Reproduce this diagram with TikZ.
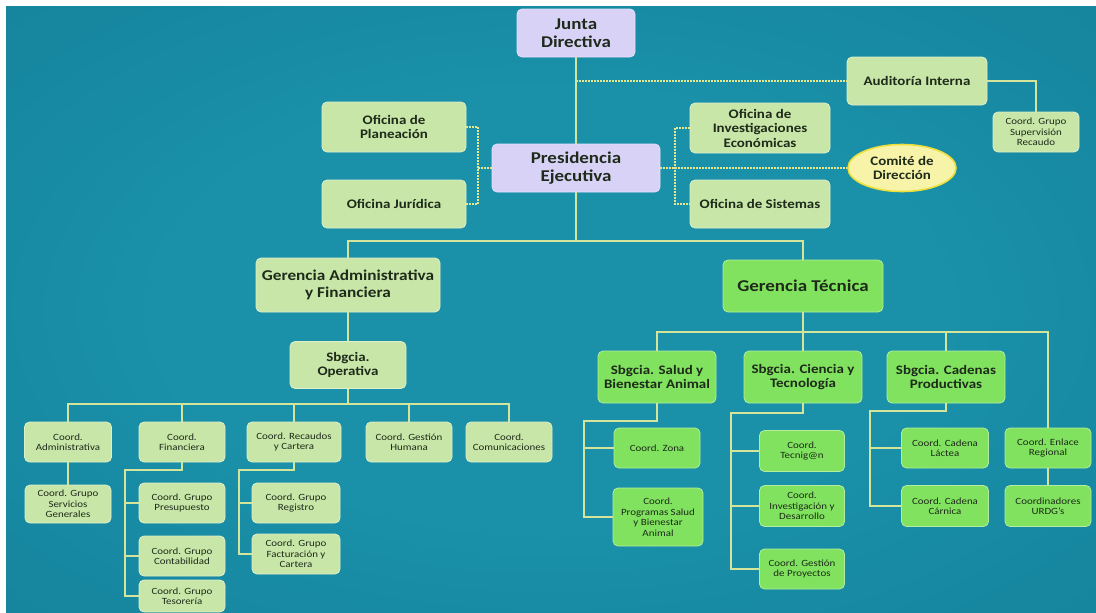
\documentclass[tikz,border=0pt]{standalone}
\usepackage{fontspec}
\setmainfont{Carlito}[FakeStretch=1.15]
\usetikzlibrary{shapes.geometric}

\definecolor{bgMid}{HTML}{1A90A9}
\definecolor{bgEdge}{HTML}{147E97}
\definecolor{bgCorner}{HTML}{0E667A}
\definecolor{lav}{HTML}{D9D2F7}
\definecolor{pale}{HTML}{C8E6A8}
\definecolor{bright}{HTML}{80E25E}
\definecolor{yel}{HTML}{F7F3A8}
\definecolor{yelB}{HTML}{EDE03A}
\definecolor{wire}{HTML}{D4E49A}
\definecolor{dots}{HTML}{E4E690}
\definecolor{ink}{HTML}{1E2A1A}

\pgfdeclareradialshading{bgshade}{\pgfpoint{0bp}{0bp}}{%
  color(0bp)=(bgMid); color(18bp)=(bgMid); color(45bp)=(bgEdge); color(71bp)=(bgCorner)}

\tikzset{
  sz/.style 2 args={minimum width=#1pt, minimum height=#2pt},
  box/.style={rounded corners=5pt, align=center, inner sep=1pt, text=ink, line width=0.8pt},
  lavbox/.style={box, fill=lav, draw=lav!70!white, font=\bfseries\fontsize{16.5}{18}\selectfont},
  palebox/.style={box, fill=pale, draw=pale!60!white, font=\bfseries\fontsize{13}{14.5}\selectfont},
  brightbox/.style={box, fill=bright, draw=bright!60!white, font=\bfseries\fontsize{13}{14.5}\selectfont},
  gfont/.style={font=\bfseries\fontsize{15}{17}\selectfont},
  gtfont/.style={font=\bfseries\fontsize{16.5}{18}\selectfont},
  small/.style={font=\fontsize{9.5}{10.5}\selectfont},
  palesm/.style={palebox, small},
  brightsm/.style={brightbox, small},
  ln/.style={draw=wire, line width=2pt},
  dot/.style={draw=dots, line width=2pt, dash pattern=on 1.6pt off 1.4pt},
}

\begin{document}
\begin{tikzpicture}[x=1pt,y=-1pt]
\useasboundingbox (0,0) rectangle (1096,613);
\fill[white] (0,0) rectangle (1096,613);
\shade[shading=bgshade] (6,6) rectangle (1096,613);

% bus and bracket positions
\coordinate (busY) at (0,241);
\coordinate (bus2) at (0,404);
\coordinate (bus3) at (0,332);
\coordinate (lbx) at (478,0);
\coordinate (rbx) at (675,0);
\coordinate (finx) at (125,470);
\coordinate (recx) at (239,470);
\coordinate (salx) at (584,421);
\coordinate (ciex) at (731,413);
\coordinate (cadx) at (870,411);

% top level
\node[lavbox, sz={118}{48}] (junta) at (576,33) {Junta\\Directiva};
\node[lavbox, sz={168}{48}] (pres) at (576,168) {Presidencia\\Ejecutiva};
\node[palebox, sz={144}{50}] (plan) at (394,127) {Oficina de\\Planeación};
\node[palebox, sz={144}{48}] (jur) at (394,204) {Oficina Jurídica};
\node[palebox, sz={140}{50}] (inv) at (760,128) {Oficina de\\Investigaciones\\Económicas};
\node[palebox, sz={140}{48}] (sist) at (760,204) {Oficina de Sistemas};
\node[palebox, sz={140}{48}] (aud) at (917,81) {Auditoría Interna};
\node[palesm, sz={86}{40}] (sup) at (1036,132) {Coord. Grupo\\Supervisión\\Recaudo};
\node[ellipse, fill=yel, draw=yelB, line width=1.6pt, sz={108}{47}, inner sep=0pt,
      align=center, text=ink, font=\bfseries\fontsize{13}{14.5}\selectfont] (comite) at (902,168) {Comité de\\Dirección};

% managements
\node[palebox, gfont, sz={184}{54}] (gaf) at (348,285) {Gerencia Administrativa\\y Financiera};
\node[brightbox, gtfont, sz={160}{52}] (gt) at (803,286) {Gerencia Técnica};
\node[palebox, sz={116}{47}] (sbop) at (348,365) {Sbgcia.\\Operativa};

% administrative coordinations
\node[palesm, sz={87}{40}] (cadm) at (68,442) {Coord.\\Administrativa};
\node[palesm, sz={86}{40}] (cfin) at (182,442) {Coord.\\Financiera};
\node[palesm, sz={94}{40}] (crec) at (294,442) {Coord. Recaudos\\y Cartera};
\node[palesm, sz={86}{40}] (cgh) at (409,442) {Coord. Gestión\\Humana};
\node[palesm, sz={86}{40}] (ccom) at (509,442) {Coord.\\Comunicaciones};
\node[palesm, sz={86}{38}] (csg) at (68,504) {Coord. Grupo\\Servicios\\Generales};
\node[palesm, sz={86}{40}] (cpre) at (182,503) {Coord. Grupo\\Presupuesto};
\node[palesm, sz={86}{40}] (ccon) at (182,556) {Coord. Grupo\\Contabilidad};
\node[palesm, sz={86}{32}] (ctes) at (182,596) {Coord. Grupo\\Tesorería};
\node[palesm, sz={88}{40}] (creg) at (296,503) {Coord. Grupo\\Registro};
\node[palesm, sz={88}{40}] (cfac) at (296,554) {Coord. Grupo\\Facturación y\\Cartera};

% technical branch
\node[brightbox, sz={118}{52}] (ssal) at (657,377) {Sbgcia. Salud y\\Bienestar Animal};
\node[brightbox, sz={118}{52}] (scie) at (803,377) {Sbgcia. Ciencia y\\Tecnología};
\node[brightbox, sz={118}{52}] (scad) at (946,377) {Sbgcia. Cadenas\\Productivas};
\node[brightsm, sz={86}{40}] (cenl) at (1048,448) {Coord. Enlace\\Regional};
\node[brightsm, sz={86}{41}] (curd) at (1048,506) {Coordinadores\\URDG's};
\node[brightsm, sz={86}{40}] (czon) at (657,448) {Coord. Zona};
\node[brightsm, sz={90}{58}] (cprog) at (658,517) {Coord.\\Programas Salud\\y Bienestar\\Animal};
\node[brightsm, sz={85}{41}] (ctec) at (802,451) {Coord.\\Tecnig@n};
\node[brightsm, sz={85}{41}] (cinv) at (802,506) {Coord.\\Investigación y\\Desarrollo};
\node[brightsm, sz={85}{40}] (cgp) at (802,569) {Coord. Gestión\\de Proyectos};
\node[brightsm, sz={87}{40}] (clac) at (945,448) {Coord. Cadena\\Láctea};
\node[brightsm, sz={87}{41}] (ccar) at (945,506) {Coord. Cadena\\Cárnica};

% staff (dotted) links
\draw[dot] (aud.west -| junta.south) -- (aud.west);
\draw[dot] (plan.east) -- (plan.east -| lbx) -- (jur.east -| lbx) -- (jur.east);
\draw[dot] (pres.west) -- (pres.west -| lbx);
\draw[dot] (inv.west) -- (inv.west -| rbx) -- (sist.west -| rbx) -- (sist.west);
\draw[dot] (pres.east) -- (comite.west);

% line links
\draw[ln] (junta.south) -- (pres.north);
\draw[ln] (aud.east) -| (sup.north);
\draw[ln] (pres.south) -- (pres.south |- busY);
\draw[ln] (gaf.north) -- (gaf.north |- busY) -- (gt.north |- busY) -- (gt.north);
\draw[ln] (gaf) -- (sbop);

\draw[ln] (sbop.south) -- (sbop.south |- bus2);
\draw[ln] (cadm.north) -- (cadm.north |- bus2) -- (ccom.north |- bus2) -- (ccom.north);
\foreach \n in {cfin,crec,cgh} \draw[ln] (\n.north) -- (\n.north |- bus2);
\draw[ln] (cadm) -- (csg);
\draw[ln] (cfin.south) -- (cfin.south |- finx) -- (finx) |- (ctes.west);
\draw[ln] (cpre.west) -- (cpre.west -| finx);
\draw[ln] (ccon.west) -- (ccon.west -| finx);
\draw[ln] (crec.south) -- (crec.south |- recx) -- (recx) |- (cfac.west);
\draw[ln] (creg.west) -- (creg.west -| recx);

\draw[ln] (gt.south) -- (gt.south |- bus3);
\draw[ln] (ssal.north) -- (ssal.north |- bus3) -- (cenl.north |- bus3) -- (cenl.north);
\draw[ln] (scie.north) -- (scie.north |- bus3);
\draw[ln] (scad.north) -- (scad.north |- bus3);
\draw[ln] (cenl) -- (curd);
\draw[ln] (ssal.south) -- (ssal.south |- salx) -- (salx) |- (cprog.west);
\draw[ln] (czon.west) -- (czon.west -| salx);
\draw[ln] (scie.south) -- (scie.south |- ciex) -- (ciex) |- (cgp.west);
\draw[ln] (ctec.west) -- (ctec.west -| ciex);
\draw[ln] (cinv.west) -- (cinv.west -| ciex);
\draw[ln] (scad.south) -- (scad.south |- cadx) -- (cadx) |- (ccar.west);
\draw[ln] (clac.west) -- (clac.west -| cadx);
\end{tikzpicture}
\end{document}
